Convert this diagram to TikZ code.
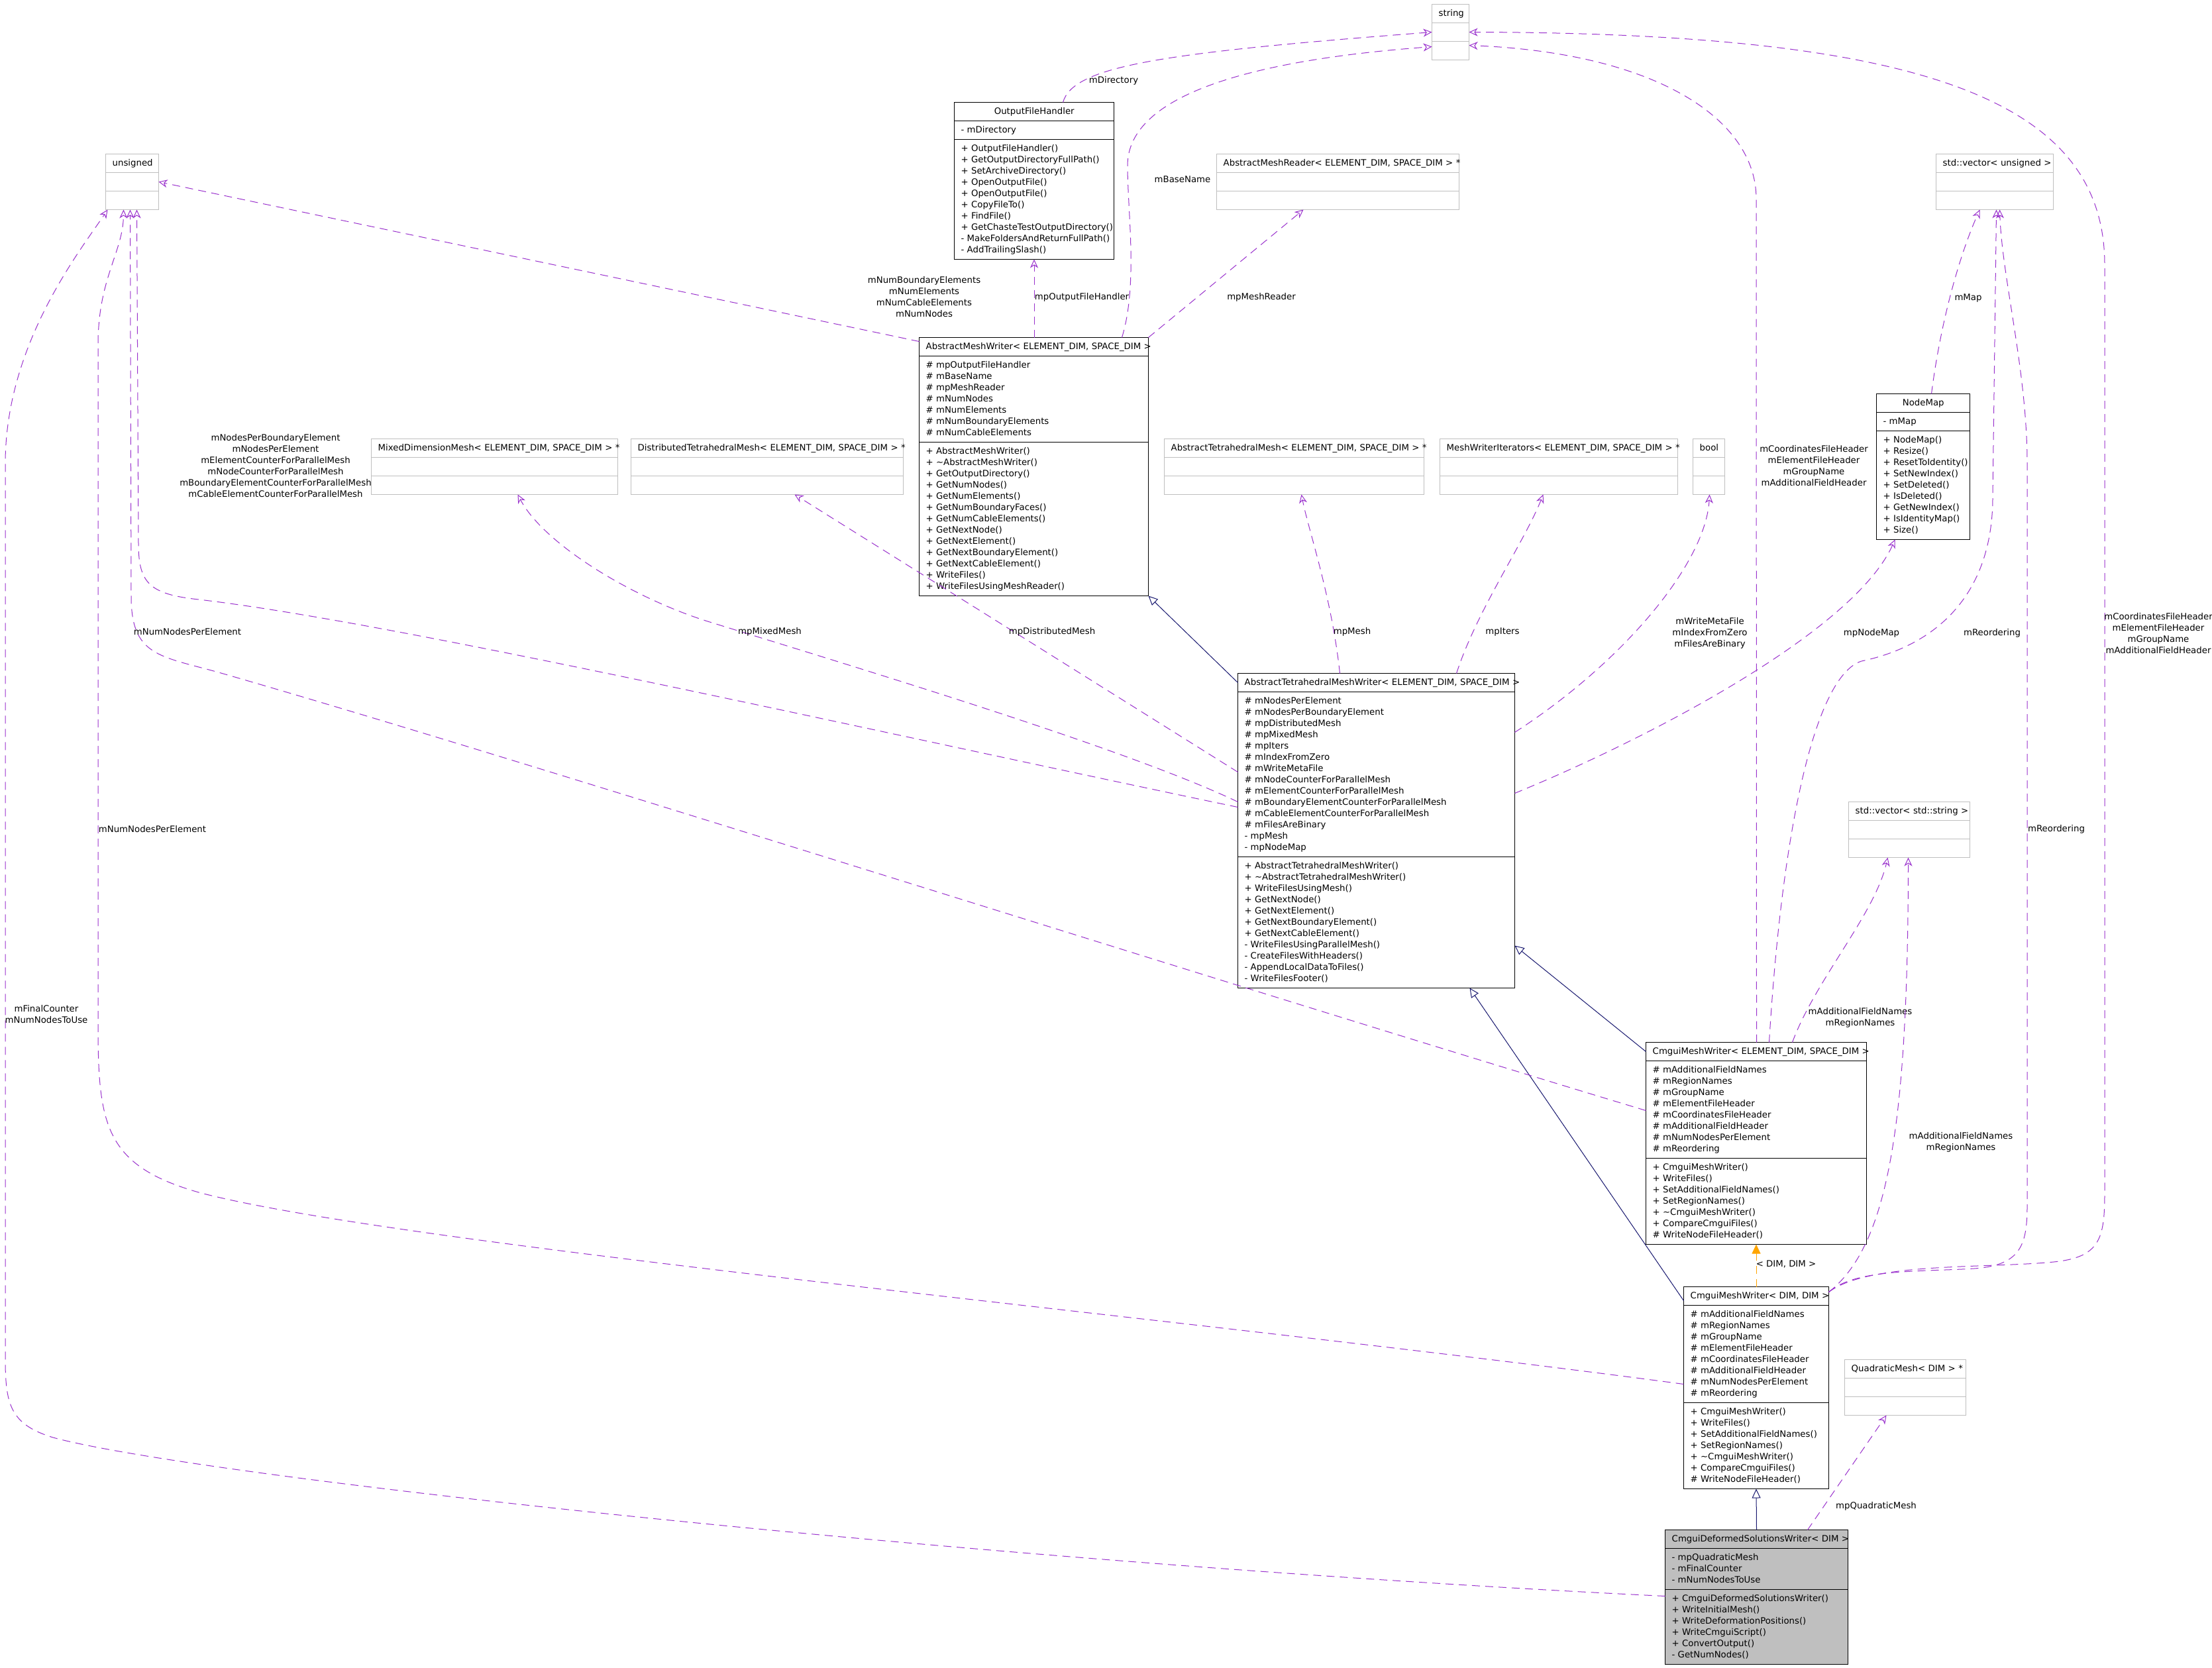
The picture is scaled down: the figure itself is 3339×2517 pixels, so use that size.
\documentclass[tikz,border=0pt]{standalone}
\usepackage{fontspec}
\setmainfont{DejaVu Sans}
\usetikzlibrary{arrows.meta,calc}
\definecolor{EdgeViolet}{HTML}{9A32CD}
\definecolor{EdgeNavy}{HTML}{191970}
\definecolor{EdgeOrange}{HTML}{FFA500}
\definecolor{BoxGray}{HTML}{BFBFBF}

% class box: name, frame style, top left, width, attribute rows, method rows, title, attributes, methods
\newcommand{\classbox}[9]{%
  \pgfmathsetmacro{\clsh}{50+(#5+#6)*17}%
  \pgfmathsetmacro{\clstw}{#4-20}%
  \pgfmathsetmacro{\clsdiv}{39+#5*17}%
  \node[#2, minimum width=#4pt, minimum height=\clsh pt, anchor=north west] (#1) at #3 {};
  \draw[#2, fill=none] ($(#1.north west)+(0,28)$) -- ($(#1.north east)+(0,28)$);
  \draw[#2, fill=none] ($(#1.north west)+(0,\clsdiv)$) -- ($(#1.north east)+(0,\clsdiv)$);
  \node[titletext, text width=\clstw pt] (#1-title) at ($(#1.north west)+(10,5.5)$) {\strut\mbox{#7}};
  \node[membertext] (#1-attr) at ($(#1.north west)+(10,33.5)$) {\strut#8\strut};
  \node[membertext] (#1-meth) at ($(#1.north west)+(10,\clsdiv+5.5)$) {\strut#9\strut};
}

\begin{document}
\begin{tikzpicture}[x=1pt, y=-1pt, font=\fontsize{13.3}{17}\selectfont,
    umlframe/.style={draw=black, line width=1pt, inner sep=0pt, outer sep=0pt},
    extframe/.style={draw=BoxGray, line width=1pt, inner sep=0pt, outer sep=0pt},
    mainframe/.style={draw=black, fill=BoxGray, line width=1pt, inner sep=0pt, outer sep=0pt},
    titletext/.style={anchor=north west, inner sep=0pt, align=center},
    membertext/.style={anchor=north west, inner sep=0pt, align=left},
    edgelabel/.style={align=center, inner sep=0pt},
    collab/.style={draw=EdgeViolet, line width=1pt, dash pattern=on 12pt off 8pt, -{Stealth[open, length=13pt, width=12pt, inset=4pt]}},
    inherit/.style={draw=EdgeNavy, line width=1pt, -{Triangle[open, length=14pt, width=13pt]}},
    templ/.style={draw=EdgeOrange, line width=1pt, dash pattern=on 12pt off 8pt, -{Triangle[length=14pt, width=13pt]}}]
  \fill[white] (0,0) rectangle (3339,2517);
  \useasboundingbox (0,0) rectangle (3339,2517);

  % classes
  \classbox{strg}{extframe}{(2161.5,6.5)}{56}{1}{1}{string}{}{}
  \classbox{unsig}{extframe}{(159.5,232.5)}{80}{1}{1}{unsigned}{}{}
  \classbox{ofh}{umlframe}{(1440.5,154.5)}{241}{1}{10}{OutputFileHandler}{- mDirectory}{+ OutputFileHandler()\\+ GetOutputDirectoryFullPath()\\+ SetArchiveDirectory()\\+ OpenOutputFile()\\+ OpenOutputFile()\\+ CopyFileTo()\\+ FindFile()\\+ GetChasteTestOutputDirectory()\\- MakeFoldersAndReturnFullPath()\\- AddTrailingSlash()}
  \classbox{amr}{extframe}{(1836.5,232.5)}{366}{1}{1}{AbstractMeshReader< ELEMENT\_DIM, SPACE\_DIM > *}{}{}
  \classbox{vecu}{extframe}{(2922.5,232.5)}{177}{1}{1}{std::vector< unsigned >}{}{}
  \classbox{amw}{umlframe}{(1387.5,509.5)}{346}{7}{13}{AbstractMeshWriter< ELEMENT\_DIM, SPACE\_DIM >}{\# mpOutputFileHandler\\\# mBaseName\\\# mpMeshReader\\\# mNumNodes\\\# mNumElements\\\# mNumBoundaryElements\\\# mNumCableElements}{+ AbstractMeshWriter()\\+ \textasciitilde AbstractMeshWriter()\\+ GetOutputDirectory()\\+ GetNumNodes()\\+ GetNumElements()\\+ GetNumBoundaryFaces()\\+ GetNumCableElements()\\+ GetNextNode()\\+ GetNextElement()\\+ GetNextBoundaryElement()\\+ GetNextCableElement()\\+ WriteFiles()\\+ WriteFilesUsingMeshReader()}
  \classbox{nmap}{umlframe}{(2832.5,594.5)}{141}{1}{9}{NodeMap}{- mMap}{+ NodeMap()\\+ Resize()\\+ ResetToIdentity()\\+ SetNewIndex()\\+ SetDeleted()\\+ IsDeleted()\\+ GetNewIndex()\\+ IsIdentityMap()\\+ Size()}
  \classbox{mdm}{extframe}{(560.5,662.5)}{372}{1}{1}{MixedDimensionMesh< ELEMENT\_DIM, SPACE\_DIM > *}{}{}
  \classbox{dtm}{extframe}{(952.5,662.5)}{411}{1}{1}{DistributedTetrahedralMesh< ELEMENT\_DIM, SPACE\_DIM > *}{}{}
  \classbox{atm}{extframe}{(1757.5,662.5)}{392}{1}{1}{AbstractTetrahedralMesh< ELEMENT\_DIM, SPACE\_DIM > *}{}{}
  \classbox{mwi}{extframe}{(2173.5,662.5)}{359}{1}{1}{MeshWriterIterators< ELEMENT\_DIM, SPACE\_DIM > *}{}{}
  \classbox{boolt}{extframe}{(2555.5,662.5)}{48}{1}{1}{bool}{}{}
  \classbox{atmw}{umlframe}{(1868.5,1016.5)}{418}{14}{11}{AbstractTetrahedralMeshWriter< ELEMENT\_DIM, SPACE\_DIM >}{\# mNodesPerElement\\\# mNodesPerBoundaryElement\\\# mpDistributedMesh\\\# mpMixedMesh\\\# mpIters\\\# mIndexFromZero\\\# mWriteMetaFile\\\# mNodeCounterForParallelMesh\\\# mElementCounterForParallelMesh\\\# mBoundaryElementCounterForParallelMesh\\\# mCableElementCounterForParallelMesh\\\# mFilesAreBinary\\- mpMesh\\- mpNodeMap}{+ AbstractTetrahedralMeshWriter()\\+ \textasciitilde AbstractTetrahedralMeshWriter()\\+ WriteFilesUsingMesh()\\+ GetNextNode()\\+ GetNextElement()\\+ GetNextBoundaryElement()\\+ GetNextCableElement()\\- WriteFilesUsingParallelMesh()\\- CreateFilesWithHeaders()\\- AppendLocalDataToFiles()\\- WriteFilesFooter()}
  \classbox{vecs}{extframe}{(2790.5,1210.5)}{183}{1}{1}{std::vector< std::string >}{}{}
  \classbox{cmwes}{umlframe}{(2484.5,1573.5)}{333}{8}{7}{CmguiMeshWriter< ELEMENT\_DIM, SPACE\_DIM >}{\# mAdditionalFieldNames\\\# mRegionNames\\\# mGroupName\\\# mElementFileHeader\\\# mCoordinatesFileHeader\\\# mAdditionalFieldHeader\\\# mNumNodesPerElement\\\# mReordering}{+ CmguiMeshWriter()\\+ WriteFiles()\\+ SetAdditionalFieldNames()\\+ SetRegionNames()\\+ \textasciitilde CmguiMeshWriter()\\+ CompareCmguiFiles()\\\# WriteNodeFileHeader()}
  \classbox{cmwdd}{umlframe}{(2541.5,1942.5)}{219}{8}{7}{CmguiMeshWriter< DIM, DIM >}{\# mAdditionalFieldNames\\\# mRegionNames\\\# mGroupName\\\# mElementFileHeader\\\# mCoordinatesFileHeader\\\# mAdditionalFieldHeader\\\# mNumNodesPerElement\\\# mReordering}{+ CmguiMeshWriter()\\+ WriteFiles()\\+ SetAdditionalFieldNames()\\+ SetRegionNames()\\+ \textasciitilde CmguiMeshWriter()\\+ CompareCmguiFiles()\\\# WriteNodeFileHeader()}
  \classbox{qmesh}{extframe}{(2784.5,2052.5)}{183}{1}{1}{QuadraticMesh< DIM > *}{}{}
  \classbox{cdsw}{mainframe}{(2513.5,2309.5)}{276}{3}{6}{CmguiDeformedSolutionsWriter< DIM >}{- mpQuadraticMesh\\- mFinalCounter\\- mNumNodesToUse}{+ CmguiDeformedSolutionsWriter()\\+ WriteInitialMesh()\\+ WriteDeformationPositions()\\+ WriteCmguiScript()\\+ ConvertOutput()\\- GetNumNodes()}

  % inheritance and template edges
  \draw[inherit] ($(atmw.north west)+(0,14)$) -- (amw.south east);
  \draw[inherit] ($(cmwes.north west)+(0,14)$) -- ($(atmw.north east)+(0,411)$);
  \draw[inherit] ($(cmwdd.north west)+(0,21)$) -- ($(atmw.south west)+(350,0)$);
  \draw[inherit] (cdsw.north) -- (cmwdd.south);
  \draw[templ] (cmwdd.north) -- (cmwes.south);
  \node[edgelabel] (l-dimdim) at (2696,1908) {< DIM, DIM >};

  % usage edges
  \draw[collab] ($(ofh.north west)+(164,0)$) .. controls (1620,100) and (1750,80) .. (strg.west);
  \node[edgelabel] (l-mdirectory) at (1681,122) {mDirectory};
  \draw[collab] ($(amw.north west)+(306,0)$) .. controls (1718,430) and (1702,320) .. (1702,250)
    .. controls (1702,140) and (1900,90) .. ($(strg.west)+(0,22)$);
  \node[edgelabel] (l-mbasename) at (1785,271) {mBaseName};
  \draw[collab] (amw.north -| ofh.south) -- (ofh.south);
  \node[edgelabel] (l-mpofh) at (1633,449) {mpOutputFileHandler};
  \draw[collab] (amw.north east) -- ($(amr.south west)+(131,0)$);
  \node[edgelabel] (l-mpmeshreader) at (1904,449) {mpMeshReader};
  \draw[collab] ($(amw.north west)+(0,6)$) -- (unsig.east);
  \node[edgelabel] (l-mnum) at (1395,448) {mNumBoundaryElements\\mNumElements\\mNumCableElements\\mNumNodes};

  \draw[collab] ($(atmw.north west)+(0,194)$) .. controls (1700,1130) and (1300,1010) .. (1065,937)
    .. controls (950,900) and (820,820) .. ($(mdm.south west)+(221,0)$);
  \node[edgelabel] (l-mpmixed) at (1162,954) {mpMixedMesh};
  \draw[collab] ($(atmw.north west)+(0,149)$) -- ($(dtm.south west)+(247,0)$);
  \node[edgelabel] (l-mpdistributed) at (1588,954) {mpDistributedMesh};
  \draw[collab] ($(atmw.north west)+(0,202)$) .. controls (1300,1100) and (600,940) .. (300,905)
    .. controls (225,897) and (209,880) .. (209,820) -- ($(unsig.south west)+(47,0)$);
  \node[edgelabel] (l-mnodesper) at (416,703) {mNodesPerBoundaryElement\\mNodesPerElement\\mElementCounterForParallelMesh\\mNodeCounterForParallelMesh\\mBoundaryElementCounterForParallelMesh\\mCableElementCounterForParallelMesh};
  \draw[collab] ($(atmw.north west)+(154,0)$) .. controls (2010,900) and (1975,800) .. ($(atm.south west)+(207,0)$);
  \node[edgelabel] (l-mpmesh) at (2041,954) {mpMesh};
  \draw[collab] ($(atmw.north west)+(330,0)$) .. controls (2230,920) and (2300,820) .. ($(mwi.south west)+(156,0)$);
  \node[edgelabel] (l-mpiters) at (2268,954) {mpIters};
  \draw[collab] ($(atmw.north east)+(0,89)$) .. controls (2450,1000) and (2575,850) .. ($(boolt.south west)+(25,0)$);
  \node[edgelabel] (l-mwrite) at (2581,956) {mWriteMetaFile\\mIndexFromZero\\mFilesAreBinary};
  \draw[collab] ($(atmw.north east)+(0,181)$) .. controls (2500,1110) and (2800,950) .. ($(nmap.south west)+(28,0)$);
  \node[edgelabel] (l-mpnodemap) at (2825,956) {mpNodeMap};
  \draw[collab] ($(nmap.north west)+(83,0)$) .. controls (2930,480) and (2960,380) .. ($(vecu.south west)+(66,0)$);
  \node[edgelabel] (l-mmap) at (2971,450) {mMap};

  \draw[collab] ($(cmwes.north west)+(167,0)$) -- (2651,300) .. controls (2651,180) and (2500,80) .. ($(strg.east)+(0,20)$);
  \node[edgelabel] (l-headers-a) at (2738,703) {mCoordinatesFileHeader\\mElementFileHeader\\mGroupName\\mAdditionalFieldHeader};
  \draw[collab] ($(cmwes.north west)+(186,0)$) .. controls (2690,1250) and (2740,1020) .. (2810,998)
    .. controls (2920,975) and (3008,900) .. (3008,750) -- ($(vecu.south west)+(91,0)$);
  \node[edgelabel] (l-mreorder-a) at (3007,956) {mReordering};
  \draw[collab] ($(cmwes.north west)+(221,0)$) .. controls (2740,1480) and (2830,1380) .. ($(vecs.south west)+(59,0)$);
  \node[edgelabel] (l-mfields-a) at (2808,1536) {mAdditionalFieldNames\\mRegionNames};
  \draw[collab] ($(cmwes.north west)+(0,103)$) .. controls (1800,1470) and (800,1150) .. (330,1015)
    .. controls (240,990) and (198,990) .. (198,900) -- ($(unsig.south west)+(37,0)$);
  \node[edgelabel] (l-mnumnodes-a) at (283,954) {mNumNodesPerElement};

  \draw[collab] ($(cmwdd.north east)+(0,8)$) .. controls (2850,1880) and (2880,1700) .. ($(vecs.south west)+(90,0)$);
  \node[edgelabel] (l-mfields-b) at (2960,1724) {mAdditionalFieldNames\\mRegionNames};
  \draw[collab] ($(cmwdd.north east)+(0,8)$) .. controls (2800,1915) and (2900,1920) .. (2980,1915)
    .. controls (3050,1910) and (3060,1880) .. (3060,1820) -- (3060,700)
    .. controls (3060,560) and (3022,420) .. ($(vecu.south west)+(96,0)$);
  \node[edgelabel] (l-mreorder-b) at (3104,1252) {mReordering};
  \draw[collab] ($(cmwdd.north east)+(0,8)$) .. controls (2820,1905) and (3000,1915) .. (3100,1905)
    .. controls (3170,1898) and (3177,1870) .. (3177,1800) -- (3177,400)
    .. controls (3177,150) and (2900,50) .. (strg.east);
  \node[edgelabel] (l-headers-b) at (3258,956) {mCoordinatesFileHeader\\mElementFileHeader\\mGroupName\\mAdditionalFieldHeader};
  \draw[collab] ($(cmwdd.north west)+(0,147)$) .. controls (1800,1990) and (600,1880) .. (300,1800)
    .. controls (160,1760) and (148,1700) .. (148,1550) -- (148,520)
    .. controls (148,420) and (186,380) .. ($(unsig.south west)+(27,0)$);
  \node[edgelabel] (l-mnumnodes-b) at (230,1252) {mNumNodesPerElement};

  \draw[collab] ($(cdsw.north west)+(215,0)$) -- ($(qmesh.south west)+(63,0)$);
  \node[edgelabel] (l-mpquad) at (2832,2274) {mpQuadraticMesh};
  \draw[collab] ($(cdsw.north west)+(0,100)$) .. controls (1500,2360) and (300,2230) .. (80,2170)
    .. controls (15,2150) and (8,2120) .. (8,2050) -- (8,700)
    .. controls (8,520) and (120,380) .. ($(unsig.south west)+(3,0)$);
  \node[edgelabel] (l-mfinal) at (70,1531) {mFinalCounter\\mNumNodesToUse};
\end{tikzpicture}
\end{document}
